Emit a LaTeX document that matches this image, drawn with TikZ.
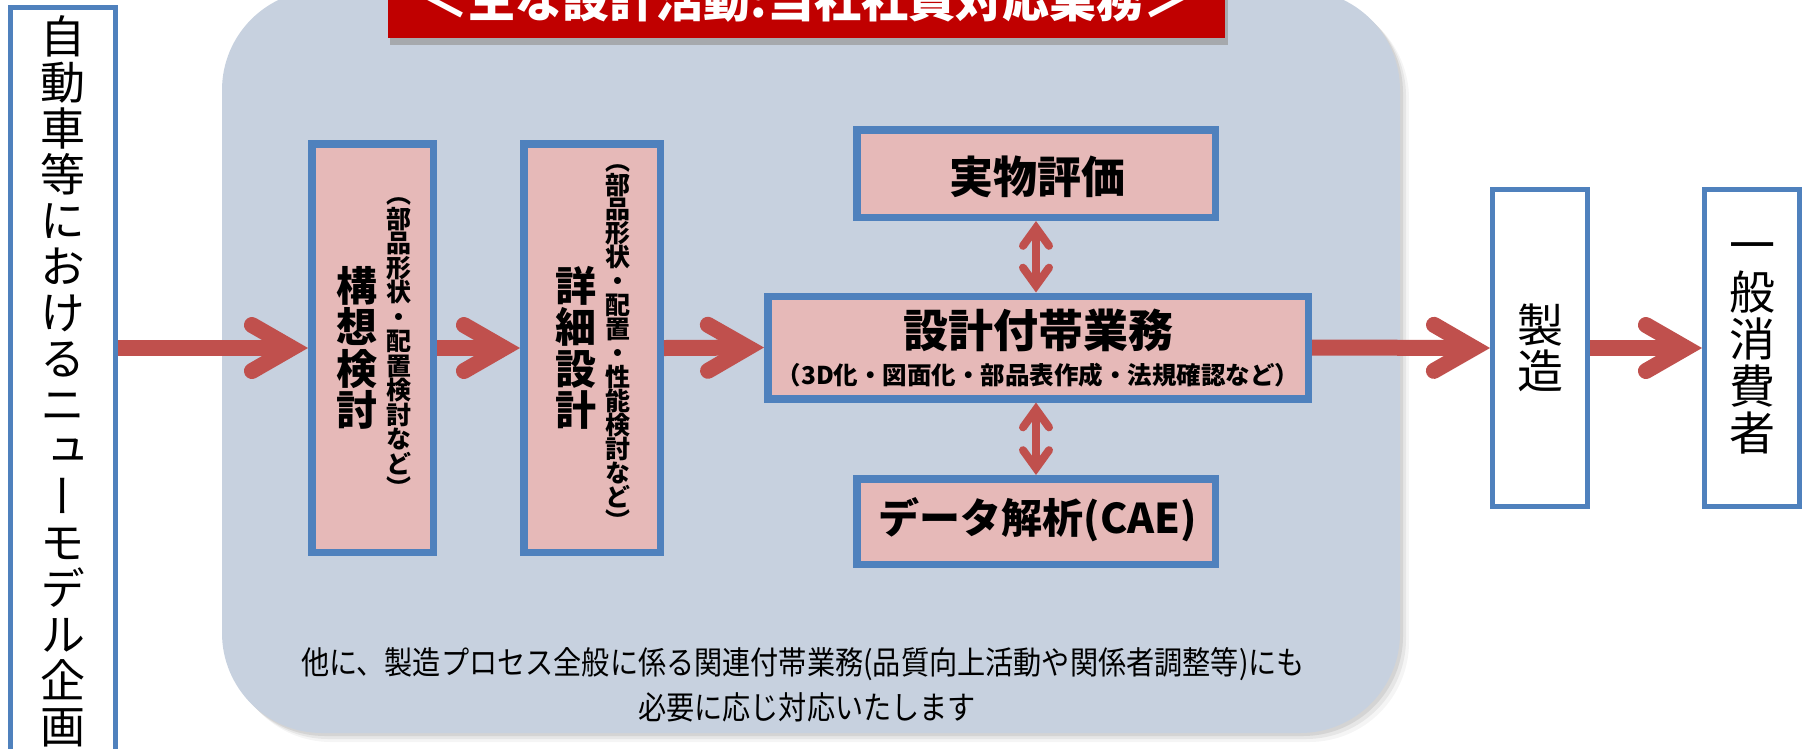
\documentclass[tikz,border=0pt]{standalone}
\usepackage{fontspec}
\usepackage{graphicx}
\usetikzlibrary{arrows.meta}
\setmainfont{Noto Sans CJK JP}
\newfontfamily\jpv{Noto Sans CJK JP}[RawFeature=+vert]
\definecolor{regionfill}{HTML}{C7D1DF}
\definecolor{boxfill}{HTML}{E6B9B8}
\definecolor{boxline}{HTML}{4F81BD}
\definecolor{arrowred}{HTML}{C0504D}
\definecolor{titlered}{HTML}{C00000}
\newcommand\vcol[3]{$\vcenter{\fontsize{#1}{#2}\selectfont\lineskiplimit=-1000pt\lineskip=0pt\halign{\hfil##\hfil\cr#3\crcr}}$}
\tikzset{
  pinkbox/.style={draw=boxline, line width=7.5pt, fill=boxfill, inner sep=0pt},
  whitebox/.style={draw=boxline, line width=5pt, fill=white, inner sep=0pt},
  txt/.style={inner sep=0pt},
  bigarrow/.style={draw=arrowred, line width=16pt, -{Straight Barb[length=40pt,width=46pt,line cap=round]}},
  smallarrow/.style={draw=arrowred, line width=8pt, {Straight Barb[length=18pt,width=26pt,line cap=round]}-{Straight Barb[length=18pt,width=26pt,line cap=round]}},
}
\begin{document}
\begin{tikzpicture}[x=1pt,y=-1pt]
\useasboundingbox (0,0) rectangle (1803,748);
\fill[white] (0,0) rectangle (1803,748);
% region shadow
\foreach \d/\o in {3/0.08,6/0.06,9/0.04}
  \fill[black, opacity=\o, rounded corners=100pt] (222+\d,-10+\d) rectangle (1400+\d,733+\d);
\fill[regionfill, rounded corners=100pt] (222,-10) rectangle (1400,733);
% title
\fill[black!40, opacity=0.7] (390,-40) rectangle (1228,45);
\node[fill=titlered, minimum width=837pt, minimum height=82pt, inner sep=0pt] (titlebox) at (806.5,-3) {};
\node[txt, text=white, font=\fontsize{47}{47}\selectfont\bfseries] (title) at (806,0) {＜主な設計活動:当社社員対応業務＞};
% left box
\node[whitebox, minimum width=104.5pt, minimum height=746.5pt] (plan) at (63,381)
  {\jpv\vcol{45}{46}{自\cr 動\cr 車\cr 等\cr に\cr お\cr け\cr る\cr ニ\cr ュ\cr ー\cr モ\cr デ\cr ル\cr 企\cr 画}};
% design boxes
\node[pinkbox, minimum width=121.5pt, minimum height=408.5pt] (kousou) at (372.5,348) {};
\node[txt, font=\jpv\bfseries] (kousoutxt) at (374,348)
  {\vcol{41}{41.5}{構\cr 想\cr 検\cr 討}\hspace{9pt}\vcol{25}{24.5}{（\cr 部\cr 品\cr 形\cr 状\cr ・\cr 配\cr 置\cr 検\cr 討\cr な\cr ど\cr ）}};
\node[pinkbox, minimum width=136.5pt, minimum height=408.5pt] (shosai) at (592,348) {};
\node[txt, font=\jpv\bfseries] (shosaitxt) at (592.75,348)
  {\vcol{41}{41.5}{詳\cr 細\cr 設\cr 計}\hspace{8.5pt}\vcol{25}{24}{（\cr 部\cr 品\cr 形\cr 状\cr ・\cr 配\cr 置\cr ・\cr 性\cr 能\cr 検\cr 討\cr な\cr ど\cr ）}};
\node[pinkbox, minimum width=358.5pt, minimum height=87.5pt] (jitsu) at (1036,173.5) {};
\node[txt, font=\fontsize{44}{44}\selectfont\bfseries] (jitsutxt) at (1037,177) {実物評価};
\node[pinkbox, minimum width=540.5pt, minimum height=102.5pt] (futai) at (1038,347.5) {};
\node[txt, font=\fontsize{45}{45}\selectfont\bfseries] (futaitxt) at (1038,330) {設計付帯業務};
\node[txt, font=\fontsize{24.5}{24.5}\selectfont\bfseries] (futaisub) at (1038,375) {（3D化・図面化・部品表作成・法規確認など）};
\node[pinkbox, minimum width=358.5pt, minimum height=85.5pt] (cae) at (1036,521.5) {};
\node[txt, font=\fontsize{41}{41}\selectfont\bfseries] (caetxt) at (1038,520) {データ解析(CAE)};
% right boxes
\node[whitebox, minimum width=95pt, minimum height=317pt] (seizo) at (1540,348)
  {\jpv\vcol{46}{46}{製\cr 造}};
\node[whitebox, minimum width=95pt, minimum height=317pt] (shohi) at (1752,348)
  {\jpv\vcol{46}{47}{一\cr 般\cr 消\cr 費\cr 者}};
% note
\node[txt] (note1) at (803,664) {\scalebox{0.88}[1]{\fontsize{32}{32}\selectfont 他に、製造プロセス全般に係る関連付帯業務(品質向上活動や関係者調整等)にも}};
\node[txt] (note2) at (807,707) {\scalebox{0.88}[1]{\fontsize{32}{32}\selectfont 必要に応じ対応いたします}};
% arrows
\draw[bigarrow] (plan.east |- kousou.west) -- (kousou.west);
\draw[bigarrow] (kousou.east) -- (shosai.west);
\draw[bigarrow] (shosai.east) -- (futai.west);
\draw[bigarrow] (futai.east) -- (seizo.west);
\draw[bigarrow] (seizo.east) -- (shohi.west);
\draw[smallarrow] (jitsu.south) -- (jitsu.south |- futai.north);
\draw[smallarrow] (cae.north |- futai.south) -- (cae.north);
\end{tikzpicture}
\end{document}
